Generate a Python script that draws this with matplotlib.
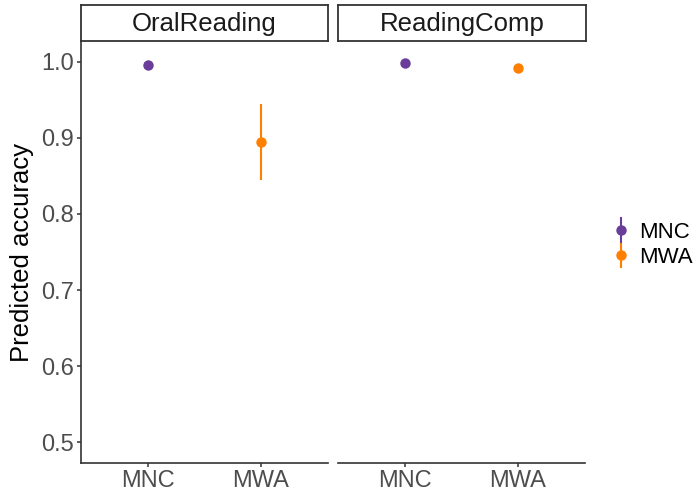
import matplotlib
matplotlib.use("Agg")
import matplotlib.pyplot as plt
from matplotlib.lines import Line2D
from matplotlib.legend_handler import HandlerBase

plt.rcParams['font.family'] = ['Liberation Sans', 'DejaVu Sans']

panels = ["OralReading", "ReadingComp"]
categories = ["MNC", "MWA"]
estimates = {"OralReading": [0.996, 0.895], "ReadingComp": [0.998, 0.992]}
lower = {"OralReading": [0.993, 0.845], "ReadingComp": [0.997, 0.990]}
upper = {"OralReading": [0.998, 0.945], "ReadingComp": [0.999, 0.994]}
colors = ["#6A3D9A", "#FF7F00"]
yticks = [0.5, 0.6, 0.7, 0.8, 0.9, 1.0]

W, H = 697, 492
fig = plt.figure(figsize=(W/100, H/100), dpi=100)
bottom_px, top_px = 463, 41
strip_top = 5
lefts = [81, 338]
width_px = 247
tick_col = "#4D4D4D"

for i, p in enumerate(panels):
    ax = fig.add_axes([lefts[i]/W, 1-bottom_px/H, width_px/W, (bottom_px-top_px)/H])
    for j, c in enumerate(categories):
        e = estimates[p][j]
        ax.plot([j, j], [lower[p][j], upper[p][j]], color=colors[j], lw=1.5, solid_capstyle='butt', zorder=2)
        ax.plot(j, e, 'o', color=colors[j], ms=7.5, mec='none', zorder=3)
    ax.set_xlim(-0.6, 1.6)
    ax.set_ylim(0.4724, 1.0276)
    ax.set_xticks(range(len(categories)))
    ax.set_xticklabels(categories, fontsize=17, color=tick_col)
    for s in ["top", "right"]:
        ax.spines[s].set_visible(False)
    ax.spines["bottom"].set_color("#333333")
    ax.spines["bottom"].set_linewidth(1.2)
    if i == 0:
        ax.set_yticks(yticks)
        ax.set_yticklabels([f"{v:.1f}" for v in yticks], fontsize=17, color=tick_col)
        ax.spines["left"].set_color("#333333")
        ax.spines["left"].set_linewidth(1.2)
        ax.set_ylabel("Predicted accuracy", fontsize=18.5, color="black", labelpad=5)
    else:
        ax.spines["left"].set_visible(False)
        ax.set_yticks([])
    ax.tick_params(axis='both', colors="#333333", length=3, width=1.1, pad=2)
    for lab in ax.get_xticklabels() + ax.get_yticklabels():
        lab.set_color(tick_col)
    # strip
    sax = fig.add_axes([lefts[i]/W, 1-top_px/H, (width_px + (1 if i == 1 else 0))/W, (top_px-strip_top)/H])
    sax.set_xticks([]); sax.set_yticks([])
    for s in sax.spines.values():
        s.set_color("#333333"); s.set_linewidth(1.3)
    sax.text(0.5, 0.47, p, ha='center', va='center', fontsize=18.5, color="#1A1A1A", transform=sax.transAxes)


class VHandler(HandlerBase):
    def __init__(self, color):
        super().__init__()
        self.color = color
    def create_artists(self, legend, orig_handle, xdescent, ydescent, width, height, fontsize, trans):
        cx = width/2 - xdescent
        cy = height/2 - ydescent
        l = Line2D([cx, cx], [cy - 8.5, cy + 8.5], color=self.color, lw=1.5, transform=trans)
        m = Line2D([cx], [cy], marker='o', ms=7.5, color=self.color, mec='none', transform=trans)
        return [l, m]

handles = [Line2D([0], [0], color=colors[j], marker='o', ms=7.5, mec='none', lw=1.5) for j in range(2)]
fig.legend(handles, categories, loc='center left', bbox_to_anchor=(614/W, 1-245/H), frameon=False,
           fontsize=16, handlelength=0.6, handletextpad=0.55, labelspacing=0.2, borderpad=0, borderaxespad=0,
           handler_map={handles[0]: VHandler(colors[0]), handles[1]: VHandler(colors[1])})

fig.savefig("out.png", dpi=100)
